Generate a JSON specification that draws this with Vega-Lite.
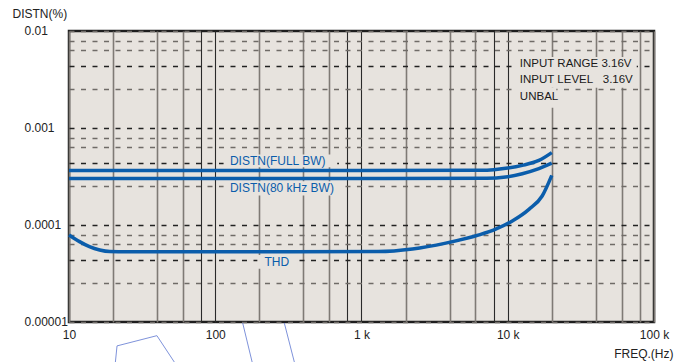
{
  "$schema": "https://vega.github.io/schema/vega-lite/v6.json",
  "width": 585,
  "height": 291,
  "autosize": {"type": "none"},
  "padding": {"left": 69, "top": 31, "right": 33, "bottom": 40},
  "background": "#ffffff",
  "config": {
    "view": {"fill": "#e7e3de", "stroke": "#1e1e1e", "strokeWidth": 2.5},
    "font": "Liberation Sans"
  },
  "datasets": {
    "curves": [
      {"series": "full", "freq": 10, "pct": 0.000365},
      {"series": "full", "freq": 100, "pct": 0.000365},
      {"series": "full", "freq": 1000, "pct": 0.000365},
      {"series": "full", "freq": 6670, "pct": 0.000366},
      {"series": "full", "freq": 8050, "pct": 0.000372},
      {"series": "full", "freq": 9680, "pct": 0.000384},
      {"series": "full", "freq": 12570, "pct": 0.000412},
      {"series": "full", "freq": 16330, "pct": 0.000463},
      {"series": "full", "freq": 20000, "pct": 0.000558},
      {"series": "bw80", "freq": 10, "pct": 0.000302},
      {"series": "bw80", "freq": 1000, "pct": 0.000302},
      {"series": "bw80", "freq": 7200, "pct": 0.000303},
      {"series": "bw80", "freq": 9680, "pct": 0.000312},
      {"series": "bw80", "freq": 12570, "pct": 0.000338},
      {"series": "bw80", "freq": 16330, "pct": 0.000381},
      {"series": "bw80", "freq": 20000, "pct": 0.000434},
      {"series": "thd", "freq": 10, "pct": 0.000079},
      {"series": "thd", "freq": 11.8, "pct": 0.0000674},
      {"series": "thd", "freq": 13.8, "pct": 0.0000598},
      {"series": "thd", "freq": 16.2, "pct": 0.0000553},
      {"series": "thd", "freq": 19, "pct": 0.0000533},
      {"series": "thd", "freq": 25, "pct": 0.000053},
      {"series": "thd", "freq": 100, "pct": 0.000053},
      {"series": "thd", "freq": 1300, "pct": 0.0000532},
      {"series": "thd", "freq": 2230, "pct": 0.0000565},
      {"series": "thd", "freq": 3770, "pct": 0.000065},
      {"series": "thd", "freq": 6360, "pct": 0.000079},
      {"series": "thd", "freq": 8270, "pct": 0.0000906},
      {"series": "thd", "freq": 10740, "pct": 0.00011},
      {"series": "thd", "freq": 13960, "pct": 0.000145},
      {"series": "thd", "freq": 17190, "pct": 0.000199},
      {"series": "thd", "freq": 20000, "pct": 0.000325}
    ],
    "curveLabels": [
      {"label": "DISTN(FULL BW)", "freq": 126, "pct": 0.000456},
      {"label": "DISTN(80 kHz BW)", "freq": 126, "pct": 0.000239},
      {"label": "THD", "freq": 217, "pct": 0.0000412}
    ],
    "notes": [
      {"label": "INPUT RANGE 3.16V", "freq": 12100, "pct": 0.00458},
      {"label": "INPUT LEVEL\u00a0\u00a0\u00a03.16V", "freq": 12100, "pct": 0.00314},
      {"label": "UNBAL", "freq": 12100, "pct": 0.00208}
    ],
    "mask": [
      {"freq": 11560, "freq2": 76200, "pct": 0.0054, "pct2": 0.0026},
      {"freq": 11560, "freq2": 21500, "pct": 0.0026, "pct2": 0.00162},
      {"freq": 114, "freq2": 682, "pct": 0.000534, "pct2": 0.000393},
      {"freq": 114, "freq2": 741, "pct": 0.000282, "pct2": 0.000202},
      {"freq": 194, "freq2": 364, "pct": 0.0000492, "pct2": 0.0000353}
    ],
    "leaders": [
      {"id": "a", "freq": 20.7, "pct": 0.0000037},
      {"id": "a", "freq": 21.3, "pct": 0.00000567},
      {"id": "a", "freq": 39.9, "pct": 0.00000723},
      {"id": "a", "freq": 53.5, "pct": 0.0000037},
      {"id": "b", "freq": 154, "pct": 0.00000977},
      {"id": "b", "freq": 180, "pct": 0.0000037},
      {"id": "c", "freq": 296.6, "pct": 0.00000977},
      {"id": "c", "freq": 350, "pct": 0.0000037}
    ]
  },
  "layer": [
    {
      "data": {"name": "mask"},
      "mark": {"type": "rect", "color": "#e7e3de"},
      "encoding": {
        "x": {
          "field": "freq", "type": "quantitative",
          "scale": {"type": "log", "domain": [10, 100000], "nice": false},
          "axis": {
            "title": "FREQ.(Hz)",
            "zindex": 0,
            "values": [10, 20, 40, 60, 80, 100, 200, 400, 600, 800, 1000, 2000, 4000, 6000, 8000, 10000, 20000, 40000, 60000, 80000, 100000],
            "labelExpr": "datum.value==10?'10':datum.value==100?'100':datum.value==1000?'1 k':datum.value==10000?'10 k':datum.value==100000?'100 k':''",
            "labelOverlap": false, "labelFlush": false, "labelBound": false,
            "ticks": false, "domain": false, "grid": true,
            "gridColor": {"condition": {"test": "indexof([80,100,800,1000,8000,10000],datum.value)>=0", "value": "#2a2a2a"}, "value": "#7f7a75"},
            "gridWidth": {"condition": {"test": "indexof([80,100,800,1000,8000,10000],datum.value)>=0", "value": 1.1}, "value": 1.6},
            "labelFontSize": 12, "labelColor": "#222222", "labelPadding": 7, "labelBaseline": "top",
            "titleFontSize": 12, "titleFontWeight": "normal", "titleColor": "#222222",
            "titleAlign": "right", "titleBaseline": "middle", "titleX": 604, "titleY": 31
          }
        },
        "x2": {"field": "freq2"},
        "y": {
          "field": "pct", "type": "quantitative",
          "scale": {"type": "log", "domain": [0.00001, 0.01], "nice": false},
          "axis": {
            "title": "DISTN(%)",
            "zindex": 0,
            "values": [0.00001, 0.000025, 0.0000437, 0.000063, 0.000079, 0.0001, 0.00025, 0.000437, 0.00063, 0.00079, 0.001, 0.0025, 0.00437, 0.0063, 0.0079, 0.01],
            "labelExpr": "datum.value==0.01?'0.01':datum.value==0.001?'0.001':datum.value==0.0001?'0.0001':datum.value==0.00001?'0.00001':''",
            "labelOverlap": false, "labelFlush": false, "labelBound": false,
            "ticks": false, "domain": false, "grid": true,
            "gridDash": [5, 6.5],
            "gridColor": {"condition": {"test": "indexof([0.0000437,0.0001,0.000437,0.001,0.00437],datum.value)>=0", "value": "#222222"}, "value": "#6f6b67"},
            "gridWidth": 1.3,
            "labelFontSize": 12, "labelColor": "#222222", "labelAlign": "left", "labelBaseline": "middle", "labelPadding": 45, "labelOffset": -1,
            "titleFontSize": 12, "titleFontWeight": "normal", "titleColor": "#222222",
            "titleAngle": 0, "titleAlign": "left", "titleBaseline": "middle", "titleX": -57, "titleY": -18
          }
        },
        "y2": {"field": "pct2"}
      }
    },
    {
      "data": {"name": "curves"},
      "mark": {"type": "line", "interpolate": "monotone", "strokeWidth": 3.5, "color": "#0b5dab", "clip": false},
      "encoding": {
        "x": {"field": "freq", "type": "quantitative"},
        "y": {"field": "pct", "type": "quantitative"},
        "detail": {"field": "series"}
      }
    },
    {
      "data": {"name": "curveLabels"},
      "mark": {"type": "text", "align": "left", "baseline": "middle", "fontSize": 12, "color": "#0b5dab"},
      "encoding": {
        "x": {"field": "freq", "type": "quantitative"},
        "y": {"field": "pct", "type": "quantitative"},
        "text": {"field": "label"}
      }
    },
    {
      "data": {"name": "notes"},
      "mark": {"type": "text", "align": "left", "baseline": "middle", "fontSize": 11.5, "color": "#1a1a1a"},
      "encoding": {
        "x": {"field": "freq", "type": "quantitative"},
        "y": {"field": "pct", "type": "quantitative"},
        "text": {"field": "label"}
      }
    },
    {
      "data": {"name": "leaders"},
      "mark": {"type": "line", "strokeWidth": 0.9, "color": "#6f86d6", "clip": false},
      "encoding": {
        "x": {"field": "freq", "type": "quantitative"},
        "y": {"field": "pct", "type": "quantitative"},
        "detail": {"field": "id"}
      }
    }
  ]
}
